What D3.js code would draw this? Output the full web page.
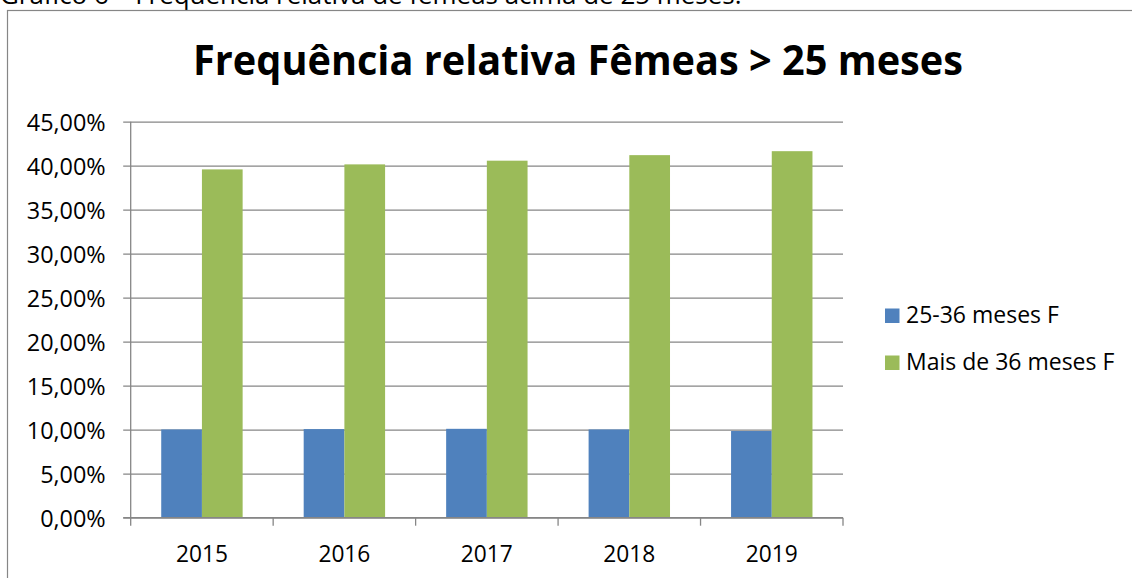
<!DOCTYPE html>
<html><head><meta charset="utf-8">
<script src="https://cdn.jsdelivr.net/npm/d3@7"></script>
<style>
html,body{margin:0;padding:0;background:#fff;overflow:hidden}
svg{display:block}
text{font-family:"Open Sans","Noto Sans",sans-serif;fill:#000}
</style></head>
<body>
<script>
const years = ["2015","2016","2017","2018","2019"];
const seriesNames = ["25-36 meses F","Mais de 36 meses F"];
const young = [0.1003, 0.1007, 0.1010, 0.1003, 0.0985];
const older = [0.3958, 0.4015, 0.4057, 0.4120, 0.4165];
const yTicks = [0,0.05,0.10,0.15,0.20,0.25,0.30,0.35,0.40,0.45];
const colors = ["#4F81BD","#9BBB59"];
const titleText = "Frequência relativa Fêmeas > 25 meses";
const captionText = "Gráfico 6 – Frequência relativa de fêmeas acima de 25 meses.";

(function(){
const W=1132,H=578;
const svg=d3.select("body").append("svg").attr("width",W).attr("height",H);

function fitSize(sel, base, target){
  const w=sel.node().getBBox().width;
  return base*target/w;
}

const cap=svg.append("text").attr("x",0).attr("y",4).style("font-size","22px").text(captionText);
cap.style("font-size",fitSize(cap,22,742)+"px");

svg.append("rect").attr("x",7.5).attr("y",10.5).attr("width",W).attr("height",H)
  .attr("fill","#fff").attr("stroke","#868686").attr("stroke-width",1.2);

const t=svg.append("text").attr("text-anchor","middle")
  .style("font-weight","bold").style("font-size","38px").text(titleText);
const tfs=fitSize(t,38,770);
t.style("font-size",tfs+"px");
const ky=30/(0.714*tfs);
t.attr("transform",`translate(578,75) scale(1,${ky})`);

const pL=130.7,pR=843,pT=121.7,pB=517.7;
const y=d3.scaleLinear().domain([0,0.45]).range([pB,pT]);
const x0=d3.scaleBand().domain(years).range([pL,pR]).padding(0);
const x1=d3.scaleBand().domain(seriesNames).range([0,x0.bandwidth()]).paddingInner(0).paddingOuter(0.75);

const fmt=v=>(v*100).toFixed(2).replace(".",",")+"%";

const yAxis=d3.axisLeft(y).tickValues(yTicks).tickSize(-(pR-pL)).tickPadding(17).tickFormat(fmt);
const gy=svg.append("g").attr("transform",`translate(${pL},0)`).call(yAxis);
gy.select(".domain").remove();
gy.attr("font-family",null).attr("font-size",null);
gy.selectAll(".tick line").attr("stroke","#868686").attr("stroke-width",1.3).attr("x1",-7.5);
const ylab=gy.selectAll(".tick text").style("font-size","22px").attr("dy","0.36em").attr("x",-25);
const topLab=gy.selectAll(".tick text").filter(d=>Math.abs(d-0.45)<1e-9);
const yfs=fitSize(topLab,22,79);
ylab.style("font-size",yfs+"px");

const data=years.map((yr,i)=>({yr,vals:[young[i],older[i]]}));
const groups=svg.append("g").selectAll("g").data(data).join("g")
  .attr("transform",d=>`translate(${x0(d.yr)},0)`);
groups.selectAll("rect").data(d=>d.vals.map((v,j)=>({s:seriesNames[j],v,j}))).join("rect")
  .attr("x",d=>x1(d.s)).attr("width",x1.bandwidth())
  .attr("y",d=>y(d.v)).attr("height",d=>y(0)-y(d.v)).attr("fill",d=>colors[d.j]);

svg.append("line").attr("x1",pL).attr("x2",pL).attr("y1",pT).attr("y2",pB)
  .attr("stroke","#868686").attr("stroke-width",1.3);

const gx=svg.append("g").attr("transform",`translate(0,${pB})`);
gx.append("line").attr("x1",pL-7.5).attr("x2",pR).attr("stroke","#868686").attr("stroke-width",1.3);
const bounds=years.map(yr=>x0(yr)).concat([pR]);
gx.selectAll("line.tk").data(bounds).join("line").attr("class","tk")
  .attr("x1",d=>d).attr("x2",d=>d).attr("y1",0).attr("y2",8).attr("stroke","#868686").attr("stroke-width",1.3);
const xl=gx.selectAll("text").data(years).join("text")
  .attr("x",d=>x0(d)+x0.bandwidth()/2).attr("y",44).attr("text-anchor","middle")
  .style("font-size","22px").text(d=>d);
const xfs=fitSize(xl.filter((d,i)=>i===0),22,52);
xl.style("font-size",xfs+"px");

const lg=svg.append("g");
const lt=[];
seriesNames.forEach((s,i)=>{
  const yy=308.5+i*47;
  lg.append("rect").attr("x",885).attr("y",yy).attr("width",14.5).attr("height",14.5).attr("fill",colors[i]);
  lt.push(lg.append("text").attr("x",906).attr("y",yy+14).style("font-size","22px").text(s));
});
const lfs=fitSize(lt[0],22,153);
lt.forEach(s=>s.style("font-size",lfs+"px"));
})();
</script>
</body></html>
